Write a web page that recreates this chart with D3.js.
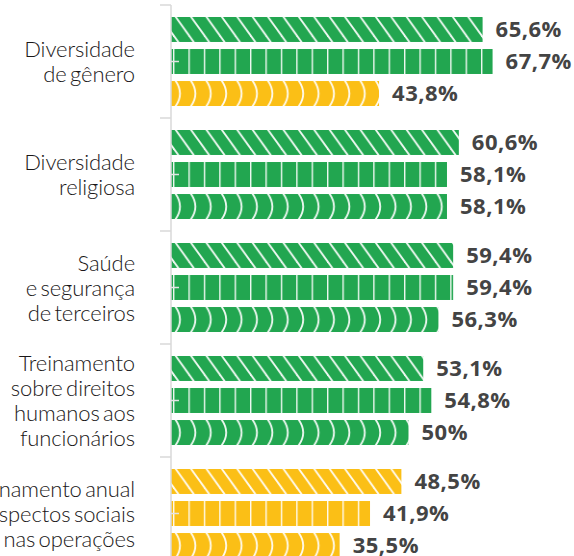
<!DOCTYPE html>
<html><head><meta charset="utf-8">
<script src="https://cdn.jsdelivr.net/npm/d3@7"></script>
<style>
html,body{margin:0;padding:0;background:#fff;}
svg{display:block;}
</style></head>
<body>
<svg id="chart" width="574" height="556"></svg>
<script>
// ---- data ----
const categories = [
  ["Diversidade", "de gênero"],
  ["Diversidade", "religiosa"],
  ["Saúde", "e segurança", "de terceiros"],
  ["Treinamento", "sobre direitos", "humanos aos", "funcionários"],
  ["Treinamento anual", "em aspectos sociais", "nas operações"]
];
const seriesNames = ["s1", "s2", "s3"];
const series1 = [65.6, 60.6, 59.4, 53.1, 48.5];
const series2 = [67.7, 58.1, 59.4, 54.8, 41.9];
const series3 = [43.8, 58.1, 56.3, 50.0, 35.5];
const valueLabels1 = ["65,6%", "60,6%", "59,4%", "53,1%", "48,5%"];
const valueLabels2 = ["67,7%", "58,1%", "59,4%", "54,8%", "41,9%"];
const valueLabels3 = ["43,8%", "58,1%", "56,3%", "50%", "35,5%"];

const seriesVals = [series1, series2, series3];
const seriesLabels = [valueLabels1, valueLabels2, valueLabels3];

const rows = [];
categories.forEach((c, i) => {
  seriesNames.forEach((s, j) => {
    rows.push({cat: i, s, j, v: seriesVals[j][i], label: seriesLabels[j][i]});
  });
});

// ---- scales ----
const svg = d3.select("#chart");
const y = d3.scaleBand().domain(d3.range(categories.length)).range([5, 5 + 5 * 113]).paddingInner(0).paddingOuter(0);
const yInner = d3.scaleBand().domain(seriesNames).range([12, 101]).paddingInner(0.22).paddingOuter(0);
const x = d3.scaleLinear().domain([0, 70]).range([171, 171 + 70 * 4.75]);
const color = d3.scaleThreshold().domain([50]).range(["#fbbf16", "#22a650"]);

const P = 15.4;            // texture period
const H = yInner.bandwidth();

// ---- patterns, one per bar ----
const defs = svg.append("defs");
rows.forEach((d, k) => {
  const top = y(d.cat) + yInner(d.s);
  const pat = defs.append("pattern")
    .attr("id", "pat" + k)
    .attr("patternUnits", "userSpaceOnUse")
    .attr("x", x(0) + 2).attr("y", top)
    .attr("width", P).attr("height", H);
  pat.append("rect").attr("width", P).attr("height", H).attr("fill", color(d.v));
  const st = {stroke: "#fff", "stroke-width": 1.8, fill: "none", "stroke-opacity": 0.92};
  if (d.j === 0) {
    for (let m = -2; m <= 1; m++) {
      const p = pat.append("line")
        .attr("x1", m * P + 2).attr("y1", -1)
        .attr("x2", m * P + 2 + (H + 2) * 0.72).attr("y2", H + 1);
      Object.entries(st).forEach(([a, b]) => p.attr(a, b));
    }
  } else if (d.j === 1) {
    const p = pat.append("line").attr("x1", 0.5).attr("x2", 0.5).attr("y1", 0).attr("y2", H);
    Object.entries(st).forEach(([a, b]) => p.attr(a, b));
  } else {
    [0, P].forEach(ox => {
      const p = pat.append("path")
        .attr("d", `M${ox + 2},-1 Q${ox + 12},${H / 2} ${ox + 2},${H + 1}`);
      Object.entries(st).forEach(([a, b]) => p.attr(a, b));
    });
  }
});

// ---- bars ----
svg.append("g").selectAll("rect").data(rows).join("rect")
  .attr("x", x(0))
  .attr("y", d => y(d.cat) + yInner(d.s))
  .attr("width", d => x(d.v) - x(0))
  .attr("height", H)
  .attr("fill", (d, k) => `url(#pat${k})`);

// ---- value labels ----
svg.append("g").selectAll("text").data(rows).join("text")
  .attr("x", d => x(d.v) + 13)
  .attr("y", d => y(d.cat) + yInner(d.s) + H / 2 + 7.5)
  .attr("font-family", "'Open Sans', sans-serif")
  .attr("font-weight", 700)
  .attr("font-size", 22)
  .attr("letter-spacing", 0.5)
  .attr("fill", "#444")
  .text(d => d.label);

// ---- axis ----
const axis = svg.append("g");
axis.append("line")
  .attr("x1", x(0)).attr("x2", x(0))
  .attr("y1", y(0)).attr("y2", 556)
  .attr("stroke", "#d9d9d9").attr("stroke-width", 1.5);
const bounds = categories.map((c, i) => y(i)).concat([y(categories.length - 1) + y.bandwidth()]);
axis.selectAll("line.b").data(bounds).join("line").attr("class", "b")
  .attr("x1", x(0) - 11).attr("x2", x(0))
  .attr("y1", d => d).attr("y2", d => d)
  .attr("stroke", "#d9d9d9").attr("stroke-width", 1.5);
axis.selectAll("line.c").data(categories.map((c, i) => i)).join("line").attr("class", "c")
  .attr("x1", x(0)).attr("x2", x(0) + 8)
  .attr("y1", i => y(i) + y.bandwidth() / 2).attr("y2", i => y(i) + y.bandwidth() / 2)
  .attr("stroke", "#e4e4e4").attr("stroke-width", 1.5);

// ---- category labels ----
const lh = 25;
const catG = svg.append("g");
categories.forEach((lines, i) => {
  const cy = y(i) + y.bandwidth() / 2;
  const t = catG.append("text")
    .attr("text-anchor", "end")
    .attr("font-family", "Lato, sans-serif")
    .attr("font-weight", 300)
    .attr("font-size", 22)
    .attr("letter-spacing", -0.1)
    .attr("word-spacing", -2.5)
    .attr("fill", "#1a1718");
  lines.forEach((ln, k) => {
    t.append("tspan")
      .attr("x", 135)
      .attr("y", cy + (k - (lines.length - 1) / 2) * lh + 8)
      .text(ln);
  });
});
</script>
</body></html>
